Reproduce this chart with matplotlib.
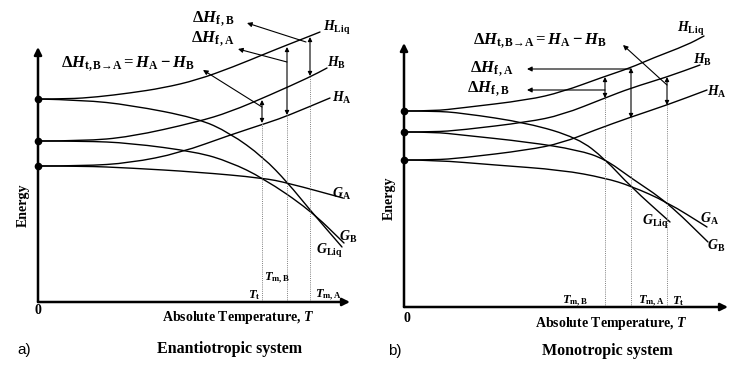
import matplotlib
matplotlib.use("Agg")
import matplotlib.pyplot as plt
from matplotlib.path import Path
from matplotlib.patches import PathPatch

plt.rcParams["font.family"] = ["Liberation Serif", "DejaVu Serif"]
plt.rcParams["font.weight"] = "bold"
plt.rcParams["mathtext.fontset"] = "custom"
plt.rcParams["mathtext.rm"] = "Liberation Serif:bold"
plt.rcParams["mathtext.bf"] = "Liberation Serif:bold"
plt.rcParams["mathtext.it"] = "Liberation Serif:italic:bold"

# schematic curves, (T, energy) in arbitrary units
# a) enantiotropic system
a_h_liq = [(0, 203), (30, 203), (59, 205), (92, 209), (125, 214), (159, 222),
           (195, 235), (229, 249), (249, 257), (272, 266), (282, 270)]
a_h_b = [(0, 161), (45, 161), (92, 165), (159, 180), (192, 190), (232, 207),
         (272, 225), (289, 234)]
a_h_a = [(0, 136), (45, 136), (92, 139), (142, 149), (192, 167), (232, 180),
         (249, 186), (292, 204)]
a_g_liq = [(0, 203), (45, 202), (92, 197), (159, 184), (192, 169), (225, 145),
           (250, 119), (272, 92), (304, 55)]
a_g_b = [(0, 161), (45, 161), (92, 159), (159, 150), (192, 140), (225, 124),
         (272, 92), (306, 59)]
a_g_a = [(0, 136), (45, 136), (92, 134), (159, 130), (225, 124), (250, 119), (305, 104)]
a_starts = [203, 161, 136]
# vertical enthalpy differences: (T, upper, lower)
a_dh = [(224, 202, 179), (249, 255, 187), (272, 265, 226)]
# pointers from the differences to their labels: (from, to)
a_pointers = [((268, 260), (209, 279)), ((249, 240), (200, 253)), ((224, 195), (165, 232))]

# b) monotropic system
b_h_liq = [(0, 196), (30, 196), (57, 199), (124, 207), (158, 215), (199, 230),
           (226, 239), (249, 249), (283, 262), (300, 271)]
b_h_b = [(0, 175), (30, 175), (58, 177), (124, 185), (158, 192), (201, 209),
         (227, 219), (263, 230), (296, 242)]
b_h_a = [(0, 147), (30, 147), (58, 149), (124, 157), (158, 164), (191, 177),
         (227, 190), (263, 202), (303, 217)]
b_g_liq = [(0, 196), (30, 196), (58, 194), (124, 184), (174, 169), (201, 148),
           (227, 120), (266, 85)]
b_g_b = [(0, 175), (30, 175), (58, 172), (124, 165), (174, 157), (201, 148),
         (227, 129), (263, 105), (304, 65)]
b_g_a = [(0, 147), (30, 147), (91, 142), (158, 137), (201, 129), (227, 121),
         (263, 105), (303, 80)]
b_starts = [196, 175, 147]
b_dh = [(201, 230, 209), (227, 239, 189), (263, 230, 202)]
b_pointers = [((227, 238), (123, 238)), ((201, 217), (123, 217)), ((263, 222), (219, 262))]


def smooth_path(pts):
    """Quadratic Bezier path that uses the read points as control points."""
    verts = [pts[0]]
    codes = [Path.MOVETO]
    for p, q in zip(pts[1:-1], pts[2:]):
        verts += [p, ((p[0] + q[0]) / 2, (p[1] + q[1]) / 2)]
        codes += [Path.CURVE3, Path.CURVE3]
    verts.append(pts[-1])
    codes.append(Path.LINETO)
    return Path(verts, codes)


def draw_panel(ax, curves, starts, dh, pointers, t_end, e_top):
    """Axes arrows, curves, dotted temperature lines and difference arrows."""
    head = dict(color="k", shrinkA=0, shrinkB=0)
    ax.annotate("", xy=(t_end, 0), xytext=(0, 0),
                arrowprops=dict(arrowstyle="-|>", lw=1.8, mutation_scale=11, **head))
    ax.annotate("", xy=(0, e_top), xytext=(0, 0),
                arrowprops=dict(arrowstyle="-|>", lw=1.8, mutation_scale=11, **head))
    for pts in curves:
        ax.add_patch(PathPatch(smooth_path(pts), fill=False, edgecolor="k", lw=1.0,
                               capstyle="round"))
    ax.plot([0] * len(starts), starts, "o", color="k", ms=4.5)
    for t, top, bottom in dh:
        ax.plot([t, t], [0, bottom], color="0.5", lw=0.7, ls=(0, (1, 1.2)))
        ax.annotate("", xy=(t, top), xytext=(t, bottom),
                    arrowprops=dict(arrowstyle="<|-|>", lw=0.8, mutation_scale=6, **head))
    for start, end in pointers:
        ax.annotate("", xy=end, xytext=start,
                    arrowprops=dict(arrowstyle="-|>", lw=0.8, mutation_scale=7, **head))


fig = plt.figure(figsize=(7.37, 3.68), dpi=100)
ax_a = fig.add_axes([0, 0, 370 / 737, 1])
ax_a.set_xlim(-38, 332)
ax_a.set_ylim(-66, 302)
ax_b = fig.add_axes([370 / 737, 0, 367 / 737, 1])
ax_b.set_xlim(-34, 333)
ax_b.set_ylim(-61, 307)
for ax in (ax_a, ax_b):
    ax.axis("off")

draw_panel(ax_a, [a_h_liq, a_h_b, a_h_a, a_g_liq, a_g_b, a_g_a], a_starts, a_dh,
           a_pointers, 312, 255)
draw_panel(ax_b, [b_h_liq, b_h_b, b_h_a, b_g_liq, b_g_b, b_g_a], b_starts, b_dh,
           b_pointers, 324, 264)

big = 12
lab = 10
tl = 9
dh_t = r"$\Delta H_{\mathrm{t,B→A}} = H_{\mathrm{A}} - H_{\mathrm{B}}$"

# panel a texts
ax_a.text(175, 283, r"$\Delta H_{\mathrm{f\,,B}}$", ha="center", va="center", fontsize=big)
ax_a.text(175, 263, r"$\Delta H_{\mathrm{f\,,A}}$", ha="center", va="center", fontsize=big)
ax_a.text(90, 238, dh_t, ha="center", va="center", fontsize=big)
ax_a.text(285, 274, r"$H_{\mathrm{Liq}}$", ha="left", va="center", fontsize=lab)
ax_a.text(289, 239, r"$H_{\mathrm{B}}$", ha="left", va="center", fontsize=lab)
ax_a.text(294, 204, r"$H_{\mathrm{A}}$", ha="left", va="center", fontsize=lab)
ax_a.text(294, 108, r"$G_{\mathrm{A}}$", ha="left", va="center", fontsize=lab)
ax_a.text(301, 65, r"$G_{\mathrm{B}}$", ha="left", va="center", fontsize=lab)
ax_a.text(278, 51, r"$G_{\mathrm{Liq}}$", ha="left", va="center", fontsize=lab)
ax_a.text(222, 7, r"$T_{\mathrm{t}}$", ha="right", va="center", fontsize=tl)
ax_a.text(226, 24, r"$T_{\mathrm{m,B}}$", ha="left", va="center", fontsize=tl)
ax_a.text(277, 7, r"$T_{\mathrm{m,A}}$", ha="left", va="center", fontsize=tl)
ax_a.text(-15, 97, "Energy", rotation=90, ha="center", va="center", fontsize=10)
ax_a.text(0, -8, "0", ha="center", va="center", fontsize=10)
ax_a.text(200, -15, r"Absolute Temperature, $T$", ha="center", va="center", fontsize=10)
ax_a.text(-14, -48, "a)", ha="center", va="center", fontsize=11,
          family="Liberation Sans", weight="normal")
ax_a.text(192, -47, "Enantiotropic system", ha="center", va="center", fontsize=11.5)

# panel b texts
ax_b.text(136, 266, dh_t, ha="center", va="center", fontsize=big)
ax_b.text(66, 238, r"$\Delta H_{\mathrm{f\,,A}}$", ha="left", va="center", fontsize=big)
ax_b.text(63, 218, r"$\Delta H_{\mathrm{f\,,B}}$", ha="left", va="center", fontsize=big)
ax_b.text(273, 278, r"$H_{\mathrm{Liq}}$", ha="left", va="center", fontsize=lab)
ax_b.text(289, 247, r"$H_{\mathrm{B}}$", ha="left", va="center", fontsize=lab)
ax_b.text(303, 215, r"$H_{\mathrm{A}}$", ha="left", va="center", fontsize=lab)
ax_b.text(296, 88, r"$G_{\mathrm{A}}$", ha="left", va="center", fontsize=lab)
ax_b.text(303, 61, r"$G_{\mathrm{B}}$", ha="left", va="center", fontsize=lab)
ax_b.text(238, 85, r"$G_{\mathrm{Liq}}$", ha="left", va="center", fontsize=lab)
ax_b.text(184, 6, r"$T_{\mathrm{m,B}}$", ha="right", va="center", fontsize=tl)
ax_b.text(234, 6, r"$T_{\mathrm{m,A}}$", ha="left", va="center", fontsize=tl)
ax_b.text(268, 6, r"$T_{\mathrm{t}}$", ha="left", va="center", fontsize=tl)
ax_b.text(-15, 109, "Energy", rotation=90, ha="center", va="center", fontsize=10)
ax_b.text(3, -12, "0", ha="center", va="center", fontsize=10)
ax_b.text(207, -17, r"Absolute Temperature, $T$", ha="center", va="center", fontsize=10)
ax_b.text(-9, -44, "b)", ha="center", va="center", fontsize=11,
          family="Liberation Sans", weight="normal")
ax_b.text(203, -44, "Monotropic system", ha="center", va="center", fontsize=11.5)

fig.savefig("out.png", dpi=100)
